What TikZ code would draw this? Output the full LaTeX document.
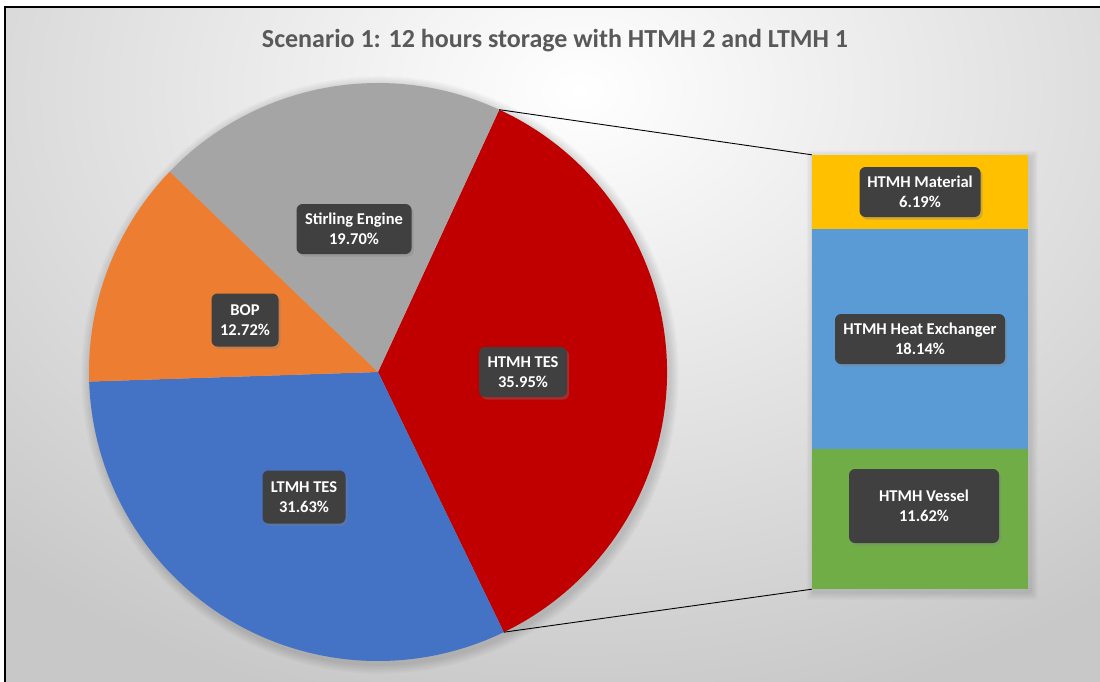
\documentclass[tikz,border=0pt]{standalone}
\usepackage{fontspec}
\setmainfont{Carlito}
\usetikzlibrary{shadows}
\definecolor{sgray}{HTML}{A5A5A5}
\definecolor{sorange}{HTML}{ED7D31}
\definecolor{sblue}{HTML}{4472C4}
\definecolor{sred}{HTML}{C00000}
\definecolor{cyel}{HTML}{FFC000}
\definecolor{clblue}{HTML}{5B9BD5}
\definecolor{cgreen}{HTML}{70AD47}
\definecolor{bgout}{HTML}{C8C8C8}
\definecolor{lblfill}{HTML}{404040}
\definecolor{titlecol}{HTML}{595959}
\begin{document}
\begin{tikzpicture}[x=1pt,y=-1pt,
  lbl/.style={fill=lblfill, rounded corners=6pt, text=white, align=center,
    inner sep=2pt, font=\bfseries\fontsize{16.5}{19.5}\selectfont,
    drop shadow={opacity=0.35, shadow xshift=2pt, shadow yshift=-2.5pt}},
  seg/.style={inner sep=0pt, minimum width=216pt, draw=none},
  conn/.style={draw=black, line width=0.9pt}]
\useasboundingbox (0,0) rectangle (1100,681);
\fill[white] (0,0) rectangle (1100,681);
\begin{scope}
  \clip (5,7) rectangle (1105,690);
  \fill[bgout] (5,7) rectangle (1105,690);
  \shade[inner color=white, outer color=bgout] (580,90) ellipse [x radius=860, y radius=640];
\end{scope}
\draw[line width=2pt] (5,690) -- (5,7) -- (1105,7);
% title
\node[font=\bfseries\fontsize{26}{30}\selectfont, text=titlecol, anchor=base] (title) at (555,47) {Scenario 1: 12 hours storage with HTMH 2 and LTMH 1};
% pie shadow
\coordinate (c) at (378,372);
\foreach \i in {1,...,6} {
  \fill[black, opacity=0.025] ([shift={(2,3)}]c) circle [radius=289+1.6*\i];
}
% pie slices
\fill[sred] (c) -- ++(-65.2:289) arc[start angle=-65.2, end angle=64.2, radius=289] -- cycle;
\fill[sblue] (c) -- ++(64.2:289) arc[start angle=64.2, end angle=178.1, radius=289] -- cycle;
\fill[sorange] (c) -- ++(178.1:289) arc[start angle=178.1, end angle=223.9, radius=289] -- cycle;
\fill[sgray] (c) -- ++(223.9:289) arc[start angle=223.9, end angle=294.8, radius=289] -- cycle;
\coordinate (p1) at ([shift={(-65.2:289)}]c);
\coordinate (p2) at ([shift={(64.2:289)}]c);
% bar shadow
\foreach \i in {1,...,5} {
  \fill[black, opacity=0.025, rounded corners=2pt] (812-1.5*\i+2,155-1.5*\i+3) rectangle (1028+1.5*\i+2,589+1.5*\i+3);
}
% bar
\node[seg, fill=cyel, minimum height=74pt] (mat) at (920,192) {};
\node[seg, fill=clblue, minimum height=220pt] (hx) at (920,339) {};
\node[seg, fill=cgreen, minimum height=140pt] (ves) at (920,519) {};
% connectors
\draw[conn] (p1) -- (mat.north west);
\draw[conn] (p2) -- (ves.south west);
% labels
\node[lbl, minimum width=115pt, minimum height=50pt] (lstir) at (354,229) {Stirling Engine\\19.70\%};
\node[lbl, minimum width=67pt, minimum height=53pt] (lbop) at (245,320) {BOP\\12.72\%};
\node[lbl, minimum width=88pt, minimum height=50pt] (lhtes) at (523,372) {HTMH TES\\35.95\%};
\node[lbl, minimum width=83pt, minimum height=53pt] (lltes) at (304,497) {LTMH TES\\31.63\%};
\node[lbl, minimum width=121pt, minimum height=50pt] (lmat) at (920,192) {HTMH Material\\6.19\%};
\node[lbl, minimum width=170pt, minimum height=50pt] (lhx) at (920,339) {HTMH Heat Exchanger\\18.14\%};
\node[lbl, minimum width=150pt, minimum height=74pt] (lves) at (924,506) {HTMH Vessel\\11.62\%};
\end{tikzpicture}
\end{document}
